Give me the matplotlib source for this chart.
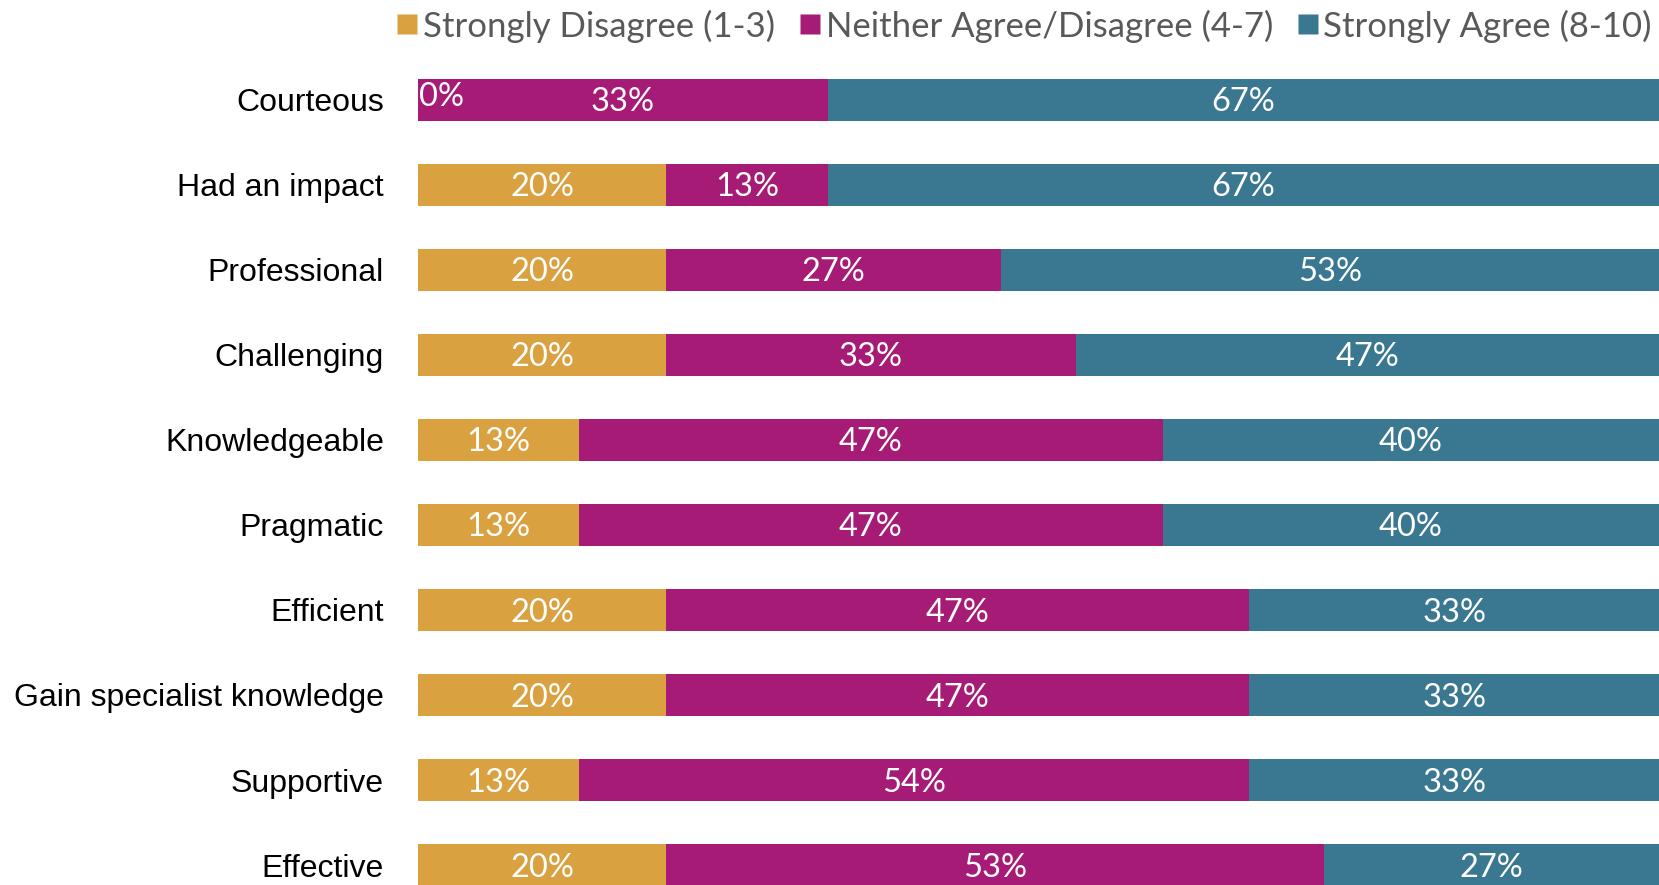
import numpy as np
import matplotlib.pyplot as plt
from matplotlib.lines import Line2D

categories = ['Courteous', 'Had an impact', 'Professional', 'Challenging', 'Knowledgeable',
              'Pragmatic', 'Efficient', 'Gain specialist knowledge', 'Supportive', 'Effective']
disagree = [0, 20, 20, 20, 13, 13, 20, 20, 13, 20]
neither = [33, 13, 27, 33, 47, 47, 47, 47, 54, 53]
agree = [67, 67, 53, 47, 40, 40, 33, 33, 33, 27]
series_names = ['Strongly Disagree (1-3)', 'Neither Agree/Disagree (4-7)', 'Strongly Agree (8-10)']
colors = ['#D9A140', '#A61B75', '#3A7891']

fig = plt.figure(figsize=(16.59, 8.85), dpi=100)
ax = fig.add_axes([418/1659, 0, 1 - 418/1659, 0.955])

y = np.arange(len(categories))
left = np.zeros(len(categories))
for vals, col in zip([disagree, neither, agree], colors):
    vals = np.array(vals, dtype=float)
    ax.barh(y, vals, left=left, height=0.5, color=col, edgecolor='none')
    for yi, v, l in zip(y, vals, left):
        if v == 0:
            # zero segment: label sits at the start of the bar
            ax.text(l + 0.1, yi - 0.03, '%d%%' % v, ha='left', va='center', color='white',
                    fontsize=23.5, family='Lato')
        else:
            ax.text(l + v / 2, yi + 0.03, '%d%%' % v, ha='center', va='center', color='white',
                    fontsize=23.5, family='Lato')
    left = left + vals

ax.set_xlim(0, 100)
ax.set_ylim(9.235, -0.706)
ax.set_yticks(y)
ax.set_yticklabels(categories, fontsize=23, family='Liberation Sans')
ax.tick_params(axis='y', length=0, pad=24.5)
ax.set_xticks([])
for s in ax.spines.values():
    s.set_visible(False)

handles = [Line2D([0], [0], marker='s', linestyle='none', markersize=15, markerfacecolor=c,
                  markeredgecolor='none') for c in colors]
leg = fig.legend(handles, series_names, loc='center right', bbox_to_anchor=(1.004, 1 - 26/885),
                 ncol=3, frameon=False, prop={'family': 'Lato', 'size': 25},
                 handlelength=0.6, handletextpad=0.15, columnspacing=0.7, borderaxespad=0)
for t in leg.get_texts():
    t.set_color('#595959')

plt.savefig('out.png', dpi=100)
